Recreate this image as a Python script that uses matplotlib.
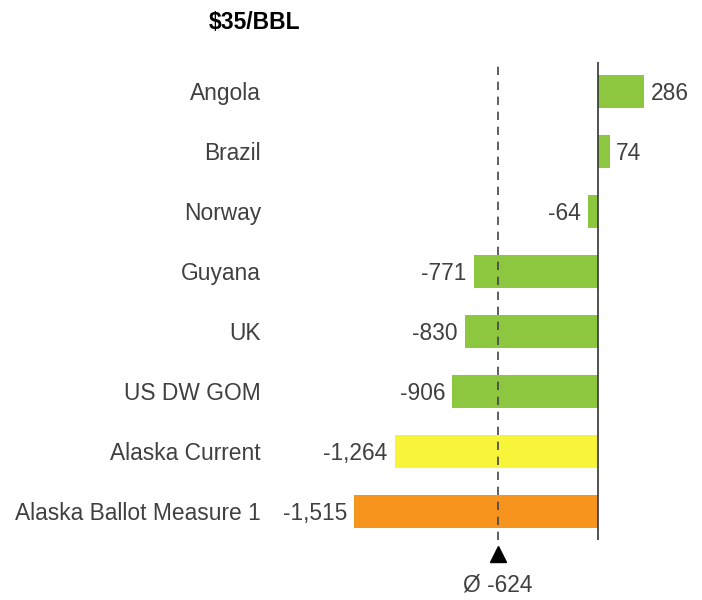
import matplotlib.pyplot as plt

plt.rcParams['font.family'] = ['Liberation Sans', 'DejaVu Sans']

# data
countries = ["Angola", "Brazil", "Norway", "Guyana", "UK", "US DW GOM",
             "Alaska Current", "Alaska Ballot Measure 1"]
values = [286, 74, -64, -771, -830, -906, -1264, -1515]
colors = ["#8dc63f"] * 6 + ["#f7f43a", "#f7941e"]
average = -624
title = "$35/BBL"

W, H = 702, 600
fig = plt.figure(figsize=(W / 100, H / 100), dpi=100)
# axes in pixel terms: left 300, right 700, top 62, bottom 540
ax = fig.add_axes([300 / W, 1 - 540 / H, 400 / W, 478 / H])

ypos = list(range(len(countries)))
ax.barh(ypos, values, height=0.55, color=colors, zorder=2)
ax.set_xlim(-1853, 634)
ax.set_ylim(len(countries) - 1 + 29 / 60, -29 / 60)

ax.axvline(0, color="#333333", lw=1.2, zorder=3)
ax.axvline(average, color="#444444", lw=1.2, ls=(0, (5, 4)), zorder=4)

ax.set_yticks(ypos)
ax.set_yticklabels(countries, fontsize=16.4, color="#404040", va="center_baseline")
ax.tick_params(axis="y", length=0, pad=28)
ax.set_xticks([])
for s in ax.spines.values():
    s.set_visible(False)

for y, v in zip(ypos, values):
    lab = f"{v:,}"
    if v >= 0:
        ax.text(v + 40, y, lab, va="center_baseline", ha="left", fontsize=16.4, color="#404040")
    else:
        ax.text(v - 45, y, lab, va="center_baseline", ha="right", fontsize=16.4, color="#404040")

# average marker below the axes
ax.plot([average], [7.72], marker="^", color="black", markersize=11, clip_on=False)
ax.text(average, 8.2, f"Ø {average:,}", ha="center", va="center_baseline",
        fontsize=16.4, color="#404040", clip_on=False)

fig.text(255 / W, 1 - 20 / H, title.replace("$", r"\$"), ha="center", va="center_baseline",
         fontsize=16.5, fontweight="bold", color="black")

fig.savefig("out.png", dpi=100)
